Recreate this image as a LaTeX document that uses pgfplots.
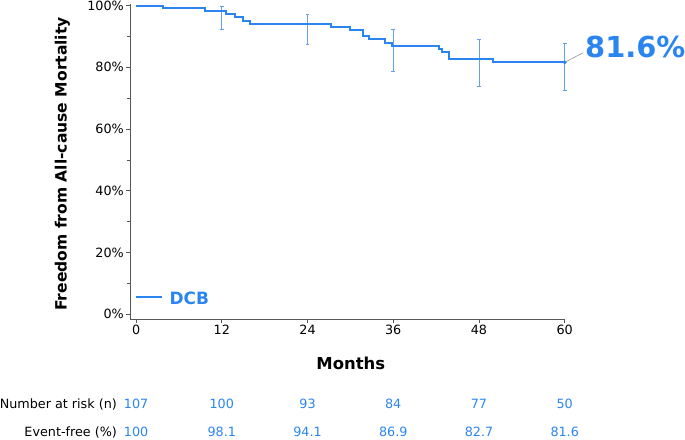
\documentclass[border=0pt]{standalone}
\usepackage{pgfplots}
\pgfplotsset{compat=1.18}
\usepackage{fontspec}
\setmainfont{DejaVu Sans}
\definecolor{kmblue}{RGB}{43,133,240}
\definecolor{errblue}{RGB}{100,160,240}
\definecolor{axgray}{RGB}{85,85,85}
\newcommand{\tf}{\fontsize{12.8}{14}\selectfont}
\begin{document}
\begin{tikzpicture}
\path[use as bounding box] (0,0) rectangle (685bp,-440bp);
\begin{axis}[
  at={(130bp,-319bp)}, anchor=south west,
  scale only axis, width=434.7bp, height=315.3bp,
  xmin=-0.85, xmax=60, ymin=-1.6, ymax=100.6,
  axis x line*=bottom, axis y line*=left,
  axis line style={axgray, line width=0.7pt},
  xtick={0,12,24,36,48,60},
  ytick={0,20,40,60,80,100},
  minor ytick={10,30,50,70,90},
  yticklabel={\pgfmathprintnumber{\tick}\%},
  tick align=outside,
  major tick length=4bp, minor tick length=3bp,
  tick style={axgray, line width=0.6pt},
  /pgf/number format/assume math mode=true,
  ticklabel style={font=\fontsize{12.8}{14}\selectfont, text=black},
  yticklabel style={inner sep=1bp, xshift=-1bp},
  xticklabel style={inner sep=1bp, yshift=-0.5bp},
  unbounded coords=jump,
  clip=false,
]
% confidence intervals
\addplot[errblue, line width=0.7pt, mark=-, mark size=1.8bp, mark options={solid, line width=0.7pt}] coordinates {
 (12,92.4) (12,99.6) (12,nan)
 (24,87.5) (24,97.2) (24,nan)
 (36,78.8) (36,92.3) (36,nan)
 (48,73.7) (48,89.0) (48,nan)
 (60,72.4) (60,87.9)
};
\addplot[const plot, kmblue, line width=2bp, mark=none] coordinates {
 (0,100) (3.7,99.1) (9.7,98.1) (12.6,97.2) (13.9,96.2) (15.0,95.1) (16.0,94.1)
 (27.3,93.1) (30.0,92.2) (31.8,90.1) (32.6,89.2) (34.8,88.0) (35.8,86.9)
 (42.4,86.0) (42.8,85.0) (43.8,82.7) (49.9,81.6) (60,81.6)
};
\addplot[only marks, mark=*, mark size=1.7bp, kmblue] coordinates {(60,81.6)};
\draw[gray, line width=0.5pt] (axis cs:60,81.6) -- (axis cs:62.5,84.6);
\node[anchor=base west, inner sep=0pt, text=kmblue, font=\fontsize{29}{33}\selectfont\bfseries] at (axis cs:62.84,83.2) {81.6\%};
% legend
\addplot[kmblue, line width=2bp, mark=none] coordinates {(0,5.4) (3.6,5.4)};
\node[anchor=base west, inner sep=0pt, text=kmblue, font=\fontsize{17}{19}\selectfont\bfseries] at (axis cs:4.66,3.15) {DCB};
% axis titles
\node[rotate=90, anchor=base, inner sep=0pt, font=\fontsize{15.6}{17}\selectfont\bfseries] at (axis cs:-9.72,48.66) {Freedom from All-cause Mortality};
\node[anchor=base, inner sep=0pt, font=\fontsize{16.5}{18}\selectfont\bfseries] at (axis cs:30.06,-17.93) {Months};
% risk table
\node[anchor=base east, inner sep=0pt, font=\tf] at (axis cs:-2.66,-30.7) {Number at risk (n)};
\node[anchor=base east, inner sep=0pt, font=\tf] at (axis cs:-2.66,-39.7) {Event-free (\%)};
\node[anchor=base, inner sep=0pt, text=kmblue, font=\tf] at (axis cs:0,-30.7) {107};
\node[anchor=base, inner sep=0pt, text=kmblue, font=\tf] at (axis cs:12,-30.7) {100};
\node[anchor=base, inner sep=0pt, text=kmblue, font=\tf] at (axis cs:24,-30.7) {93};
\node[anchor=base, inner sep=0pt, text=kmblue, font=\tf] at (axis cs:36,-30.7) {84};
\node[anchor=base, inner sep=0pt, text=kmblue, font=\tf] at (axis cs:48,-30.7) {77};
\node[anchor=base, inner sep=0pt, text=kmblue, font=\tf] at (axis cs:60,-30.7) {50};
\node[anchor=base, inner sep=0pt, text=kmblue, font=\tf] at (axis cs:0,-39.7) {100};
\node[anchor=base, inner sep=0pt, text=kmblue, font=\tf] at (axis cs:12,-39.7) {98.1};
\node[anchor=base, inner sep=0pt, text=kmblue, font=\tf] at (axis cs:24,-39.7) {94.1};
\node[anchor=base, inner sep=0pt, text=kmblue, font=\tf] at (axis cs:36,-39.7) {86.9};
\node[anchor=base, inner sep=0pt, text=kmblue, font=\tf] at (axis cs:48,-39.7) {82.7};
\node[anchor=base, inner sep=0pt, text=kmblue, font=\tf] at (axis cs:60,-39.7) {81.6};
\end{axis}
\end{tikzpicture}
\end{document}
